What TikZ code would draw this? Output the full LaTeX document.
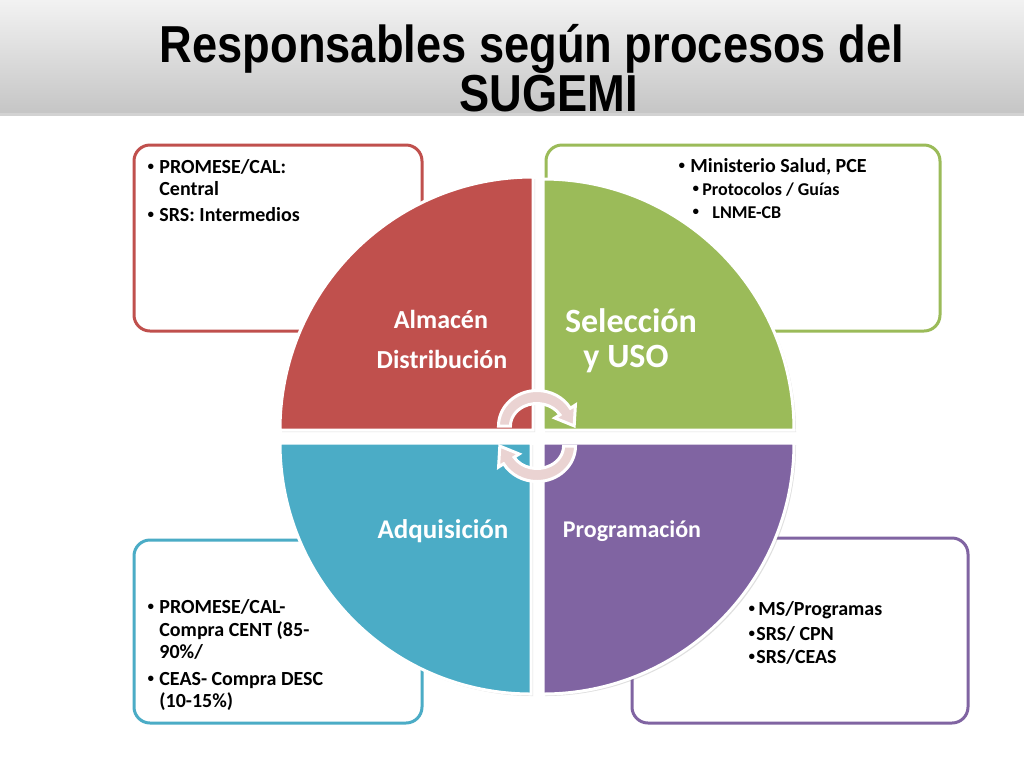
\documentclass[tikz,border=0pt]{standalone}
\usepackage{fontspec}
\setmainfont{Carlito}
\newfontfamily\titlefont{Liberation Sans}
\usetikzlibrary{shadows}
\definecolor{rojo}{HTML}{C0504D}
\definecolor{verde}{HTML}{9BBB59}
\definecolor{azul}{HTML}{4BACC6}
\definecolor{morado}{HTML}{8064A2}
\definecolor{rosa}{HTML}{EAD3D2}

\begin{document}
\begin{tikzpicture}[x=0.5pt,y=-0.5pt,
        caja/.style={draw=#1,line width=1.5pt,rounded corners=8pt,fill=white},
        cuarto/.style={fill=#1,draw=white,line width=1.5pt,
            drop shadow={opacity=0.25,shadow xshift=1pt,shadow yshift=-1pt}},
        flecha/.style={fill=rosa,draw=white,line width=1.5pt,
            drop shadow={opacity=0.2,shadow xshift=0.5pt,shadow yshift=-0.5pt}},
        etiq/.style={anchor=base,text=white,inner sep=0pt},
        txt/.style={anchor=base west,inner sep=0pt,font=\bfseries\fontsize{10}{12}\selectfont},
        txtb/.style={anchor=base west,inner sep=0pt,font=\bfseries\fontsize{9}{11}\selectfont},
        punto/.style={anchor=base west,inner sep=0pt,font=\titlefont\fontsize{10}{12}\selectfont},
        titulo/.style={anchor=base,inner sep=0pt,font=\titlefont\bfseries\fontsize{26}{30}\selectfont}]%
        \useasboundingbox (0,0) rectangle (1024,768);
        \fill[white] (0,0) rectangle (1024,768);
        % barra del titulo
        \fill[top color=gray!10,bottom color=gray!45,
            drop shadow={opacity=0.35,shadow xshift=0pt,shadow yshift=-2pt}] (0,0) rectangle (1024,112);
        \node[titulo] (titulo1) at (532,62) {\scalebox{0.87}[1]{Responsables según procesos del}};
        \node[titulo] (titulo2) at (549,111) {\scalebox{0.87}[1]{SUGEMI}};
        % cajas
        \draw[caja=rojo] (134,145) rectangle (422,331);
        \draw[caja=verde] (546,145) rectangle (940,331);
        \draw[caja=azul] (134,540) rectangle (422,723);
        \draw[caja=morado] (632,538) rectangle (968,723);
        % cuartos del circulo
        \draw[cuarto=rojo] (533,430) -- (280,430) arc[start angle=180,end angle=270,radius=253] -- cycle;
        \draw[cuarto=verde] (543,430) -- (543,179) arc[start angle=270,end angle=360,radius=251] -- cycle;
        \draw[cuarto=azul] (531,443) -- (280,443) arc[start angle=180,end angle=90,radius=251] -- cycle;
        \draw[cuarto=morado] (543,443) -- (794,443) arc[start angle=0,end angle=90,radius=251] -- cycle;
        \node[etiq,font=\bfseries\fontsize{13}{15}\selectfont] (almacen) at (441,328) {Almacén};
        \node[etiq,font=\bfseries\fontsize{13}{15}\selectfont] (distribucion) at (442,368) {Distribución};
        \node[etiq,font=\bfseries\fontsize{17}{20}\selectfont] (seleccion) at (631,332) {Selección};
        \node[etiq,font=\bfseries\fontsize{17}{20}\selectfont] (uso) at (626,367) {y USO};
        \node[etiq,font=\bfseries\fontsize{13.5}{16}\selectfont] (adquisicion) at (443,538) {Adquisición};
        \node[etiq,font=\bfseries\fontsize{12}{14}\selectfont] (programacion) at (632,537) {Programación};
        % flechas del centro
        \draw[flecha] (498.5,426) arc[start angle=180,end angle=330,x radius=38.5,y radius=35.5]
            -- (575.4,405) -- (574.2,425.9) -- (554.8,418) -- (559.9,414.75)
            arc[start angle=330,end angle=180,x radius=26.5,y radius=22.5] -- cycle;
        \draw[flecha,rotate around={180:(537,436)}] (498.5,426) arc[start angle=180,end angle=330,x radius=38.5,y radius=35.5]
            -- (575.4,405) -- (574.2,425.9) -- (554.8,418) -- (559.9,414.75)
            arc[start angle=330,end angle=180,x radius=26.5,y radius=22.5] -- cycle;
        % textos de las cajas
        \node[punto] (bal1) at (147,173) {•};
        \node[txt] (al1) at (159,173) {PROMESE/CAL:};
        \node[txt] (al2) at (159,195) {Central};
        \node[punto] (bal2) at (147,221) {•};
        \node[txt] (al3) at (159,221) {SRS: Intermedios};
        \node[punto] (bse1) at (678,172) {•};
        \node[txt] (se1) at (690,172) {Ministerio Salud, PCE};
        \node[punto] (bse2) at (692,195) {•};
        \node[txtb] (se2) at (702,195) {Protocolos / Guías};
        \node[punto] (bse3) at (692,218) {•};
        \node[txtb] (se3) at (712,218) {LNME-CB};
        \node[punto] (bad1) at (147,613) {•};
        \node[txt] (ad1) at (159,613) {PROMESE/CAL-};
        \node[txt] (ad2) at (159,636) {Compra CENT (85-};
        \node[txt] (ad3) at (159,658) {90\%/};
        \node[punto] (bad2) at (147,685) {•};
        \node[txt] (ad4) at (159,685) {CEAS- Compra DESC};
        \node[txt] (ad5) at (159,707) {(10-15\%)};
        \node[punto] (bpr1) at (748,615) {•};
        \node[txt] (pr1) at (758,615) {MS/Programas};
        \node[punto] (bpr2) at (748,640) {•};
        \node[txt] (pr2) at (756,640) {SRS/ CPN};
        \node[punto] (bpr3) at (748,663) {•};
        \node[txt] (pr3) at (756,663) {SRS/CEAS};
    \end{tikzpicture}
\end{document}
